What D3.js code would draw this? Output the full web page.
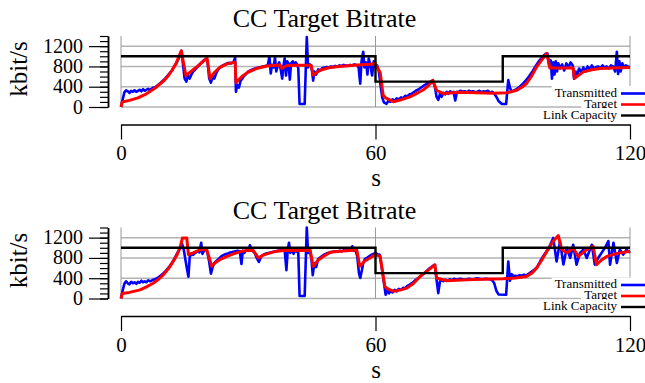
<!DOCTYPE html>
<html>
<head>
<meta charset="utf-8">
<script src="https://cdn.jsdelivr.net/npm/d3@7"></script>
<style>
  html, body { margin: 0; padding: 0; background: #fff; }
  svg { display: block; }
  text { font-family: "Liberation Serif", "Times New Roman", Times, serif; fill: #000; }
</style>
</head>
<body>
<svg id="chart" width="645" height="383"></svg>
<script>
// ---------------- DATA ----------------
const chartTitle = "CC Target Bitrate";
const xLabel = "s";
const yLabel = "kbit/s";
const xTicks = [0, 60, 120];
const yMajorTicks = [0, 400, 800, 1200];
const yMinorTicks = [0, 100, 200, 300, 400, 500, 600, 700, 800, 900, 1000, 1100, 1200, 1300, 1400];
const legendLabels = ["Transmitted", "Target", "Link Capacity"];
const seriesColors = ["#0000ff", "#ff0000", "#000000"];

// Link capacity (step function, value holds until next time)
const capacityTimes = [0, 60, 90, 120];
const capacityValues = [1000, 500, 1000, 1000];

// Top panel: target bitrate [s, kbit/s]
const targetTop = [[0,0],[0.3,100],[2,130],[4,180],[6,260],[8,370],[10,510],[11,600],[12,720],[13,860],[14.2,1110],
 [15.3,620],[16.5,700],[18,800],[19.5,910],[20.3,960],[21,560],[22,680],[23.3,780],[25,850],[26.9,885],[27.1,480],
 [28.5,600],[30,690],[32,760],[34.4,810],[37.5,830],[37.9,760],[39.1,820],[41,825],[44.8,825],[45.3,630],[46.9,725],
 [49,775],[50.8,795],[54.8,825],[58.7,845],[59.9,858],[61.1,680],[61.8,230],[62.4,180],[64.2,105],[66,140],[68.1,200],
 [70,280],[71.3,340],[72.5,420],[73.5,528],[74.4,330],[76,265],[79.9,290],[87.8,270],[91,280],[93.3,330],[94.5,390],
 [95.6,463],[96.8,610],[98,792],[99.2,930],[100.4,1056],[101.1,770],[106.6,770],[106.9,565],[109,693],[111,735],
 [112.9,760],[116,770],[120,780]];

// Top panel: transmitted bitrate [s, kbit/s]
const transmittedTop = [[0,0],[0.4,150],[0.8,290],[1.2,330],[1.6,310],[2,280],[2.4,320],[2.8,300],[3.2,330],[3.6,300],
 [4,320],[4.4,340],[4.8,310],[5.2,350],[5.6,320],[6,340],[6.4,360],[6.8,330],[7.2,360],[7.6,380],[8,390],[8.5,420],
 [9,450],[9.5,490],[10,530],[10.5,570],[11,620],[11.5,670],[12,720],[12.5,790],[13,860],[13.5,940],[14,1030],[14.3,1100],
 [14.6,850],[15,560],[15.4,500],[15.8,620],[16.2,560],[16.6,640],[17,700],[17.5,740],[18,790],[18.5,830],[19,880],
 [19.5,920],[20,950],[20.4,900],[20.8,560],[21.2,480],[21.6,600],[22,560],[22.5,680],[23,750],[23.5,790],[24,820],
 [24.5,840],[25,860],[25.5,870],[26,860],[26.5,880],[26.9,970],[27.1,300],[27.4,440],[27.8,380],[28.2,520],[28.6,560],
 [29,610],[29.5,650],[30,700],[31,740],[32,770],[33,790],[34,810],[34.6,820],[35,1000],[35.3,660],[35.6,830],[36,780],
 [36.3,980],[36.6,700],[37,830],[37.3,880],[37.7,720],[38,560],[38.3,820],[38.6,960],[38.9,620],[39.2,900],[39.5,860],
 [39.8,540],[40.1,860],[40.5,900],[40.9,820],[41.2,880],[41.5,840],[41.8,760],[42.1,60],[43.3,60],[43.8,1380],[44.1,780],
 [44.5,840],[44.9,800],[45.3,520],[45.6,700],[46,640],[46.5,740],[47,720],[47.5,770],[48,780],[48.5,790],[49,780],
 [49.5,800],[50,790],[50.5,810],[51,800],[51.5,820],[52,810],[52.5,830],[53,820],[53.5,810],[54,830],[54.5,820],
 [55,840],[55.5,830],[56,790],[56.4,460],[56.7,900],[57.1,1090],[57.4,780],[57.8,880],[58.1,640],[58.4,960],[58.8,820],
 [59.2,620],[59.6,900],[60,780],[60.4,820],[60.8,700],[61.2,420],[61.6,180],[62,90],[62.6,60],[63,120],[63.5,100],
 [64,150],[64.5,120],[65,170],[65.5,150],[66,190],[66.5,170],[67,220],[67.5,210],[68,250],[68.5,260],[69,290],
 [69.5,320],[70,340],[70.5,370],[71,400],[71.5,430],[72,450],[72.5,480],[73,500],[73.5,520],[74,400],[74.4,200],
 [74.8,140],[75.2,260],[75.6,200],[76,280],[76.4,250],[76.8,300],[77.2,260],[77.6,310],[78,280],[78.4,300],[78.8,130],
 [79.2,300],[79.6,290],[80,320],[80.5,300],[81,310],[81.5,290],[82,320],[82.5,300],[83,310],[83.5,290],[84,300],
 [84.5,320],[85,290],[85.5,310],[86,300],[86.5,320],[87,280],[87.5,300],[88,260],[88.5,200],[89,120],[89.8,60],
 [90.8,60],[91.3,530],[91.7,380],[92.1,300],[92.5,320],[93,340],[93.5,370],[94,400],[94.5,440],[95,480],[95.5,530],
 [96,580],[96.5,640],[97,700],[97.5,770],[98,840],[98.5,900],[99,950],[99.5,1000],[100,1040],[100.5,1060],[101,800],
 [101.3,920],[101.6,560],[101.9,880],[102.2,640],[102.5,900],[102.8,700],[103.1,860],[103.5,760],[104,840],[104.5,720],
 [105,860],[105.5,780],[106,880],[106.5,820],[106.8,560],[107.2,700],[107.6,640],[108,760],[108.5,680],[109,780],
 [109.5,700],[110,800],[110.5,740],[111,820],[111.5,760],[112,790],[112.5,800],[113,760],[113.5,820],[114,780],
 [114.5,800],[115,760],[115.5,820],[116,800],[116.5,700],[116.9,1090],[117.2,650],[117.5,900],[117.8,700],[118.2,860],
 [118.6,780],[119,820],[119.5,800],[120,790]];

// Bottom panel: target bitrate [s, kbit/s]
const targetBottom = [[0,0],[0.3,100],[2,120],[4.5,170],[6,230],[7.6,300],[9,390],[10,470],[11.2,590],[12.3,730],
 [13.2,860],[13.9,1000],[14.5,1195],[15.5,1195],[15.9,865],[17,900],[18.6,960],[20.2,965],[21.4,635],[22.3,710],
 [23.3,765],[25,830],[26.5,880],[28,920],[29.6,945],[31.2,945],[32.4,800],[33.4,850],[34.4,880],[36,920],[38.3,945],
 [44.6,950],[45.3,635],[46.5,760],[47.7,830],[49.3,910],[51.6,930],[54.8,950],[55.6,950],[56.3,635],[57.5,740],
 [58.7,800],[59.9,865],[61.1,830],[62.2,240],[62.6,205],[64.2,140],[66,170],[67.4,205],[69,300],[70.5,435],[72.3,550],
 [74,665],[74.4,405],[76.8,350],[83,375],[90.1,390],[93,405],[95.6,435],[97,510],[98,600],[99.2,760],[100.4,930],
 [101.9,1130],[103.1,1240],[103.9,965],[105.1,900],[106.6,1000],[107.8,830],[109.8,965],[111.3,1030],[112.1,665],
 [113.3,760],[114.5,830],[117,890],[120,930]];

// Bottom panel: transmitted bitrate [s, kbit/s]
const transmittedBottom = [[0,0],[0.4,160],[0.8,290],[1.2,340],[1.6,300],[2,280],[2.4,330],[2.8,300],[3.2,320],
 [3.6,290],[4,330],[4.4,310],[4.8,350],[5.2,320],[5.6,340],[6,320],[6.4,360],[6.8,340],[7.2,350],[7.6,370],[8,380],
 [8.5,400],[9,430],[9.5,460],[10,500],[10.5,540],[11,590],[11.5,640],[12,700],[12.5,770],[13,850],[13.5,930],[14,1000],
 [14.4,1080],[14.8,960],[15.2,760],[15.6,560],[15.9,430],[16.2,820],[16.6,880],[17,860],[17.5,900],[18,930],[18.5,910],
 [18.9,1100],[19.2,880],[19.6,950],[20,970],[20.4,900],[20.8,720],[21.2,490],[21.6,620],[22,700],[22.5,740],[23,780],
 [23.5,820],[24,850],[24.5,870],[25,880],[25.5,900],[26,910],[26.5,920],[27,930],[27.5,940],[28,930],[28.4,680],
 [28.7,940],[29.1,900],[29.5,950],[30,940],[30.4,1050],[30.8,950],[31.2,930],[31.6,880],[32,800],[32.5,720],[33,820],
 [33.5,860],[34,880],[35,900],[36,920],[37,940],[38,950],[38.6,940],[39,560],[39.3,950],[39.6,1100],[39.9,900],
 [40.3,960],[40.7,880],[41.1,960],[41.5,920],[41.8,900],[42.1,50],[43.3,50],[43.8,1400],[44.1,900],[44.5,960],
 [44.9,780],[45.2,460],[45.6,700],[46,620],[46.5,780],[47,810],[47.5,840],[48,870],[48.5,890],[49,900],[49.5,910],
 [50,920],[50.5,930],[51,920],[51.5,940],[52,930],[52.5,950],[53,940],[53.5,960],[54,950],[54.5,1030],[54.9,940],
 [55.3,960],[55.7,830],[56.1,500],[56.4,405],[56.8,560],[57.1,700],[57.5,780],[58,800],[58.5,830],[59,860],[59.5,880],
 [60,900],[60.5,870],[61,860],[61.5,600],[62,300],[62.4,73],[62.8,170],[63.2,100],[63.6,160],[64,120],[64.5,170],
 [65,140],[65.5,190],[66,170],[66.5,210],[67,200],[67.5,250],[68,270],[68.5,300],[69,330],[69.5,370],[70,400],
 [70.5,430],[71,470],[71.5,500],[72,540],[72.5,580],[73,610],[73.5,640],[74,660],[74.4,370],[74.8,106],[75.2,340],
 [75.6,360],[76,340],[76.5,370],[77,350],[77.5,380],[78,360],[78.5,390],[79,370],[79.5,380],[80,390],[81,370],
 [82,390],[83,380],[84,400],[85,380],[86,390],[87,380],[87.5,360],[88,300],[88.5,150],[89,80],[90.8,75],[91.3,730],
 [91.7,350],[92.1,480],[92.6,435],[93,450],[93.5,440],[94,460],[94.5,450],[95,470],[95.5,450],[96,480],[96.5,510],
 [97,540],[97.5,570],[98,610],[98.5,680],[99,760],[99.5,830],[100,890],[100.5,950],[101.1,1040],[101.9,1195],
 [102.7,730],[103.5,1130],[104.3,670],[105.1,1000],[105.9,800],[106.6,1060],[107.4,667],[108.2,900],[109,965],
 [109.8,800],[111,1060],[111.7,667],[112.5,800],[113.3,900],[114.1,1000],[114.9,1130],[115.3,667],[116.1,1100],
 [116.9,700],[117.6,965],[118.4,865],[119.2,965],[120,900]];

const panels = [
  { offset: 0, transmitted: transmittedTop, target: targetTop },
  { offset: 191.5, transmitted: transmittedBottom, target: targetBottom }
];

// ---------------- DRAW ----------------
const svg = d3.select("#chart");
const W = 645;
const plotLeft = 121, plotRight = 630, plotTop = 36, plotBottom = 107;
const yAxisX = 108, xAxisY = 124.5;
const serif = "'Liberation Serif', 'Times New Roman', serif";

const x = d3.scaleLinear().domain([0, 120]).range([plotLeft, plotRight]);
const capacityData = capacityTimes.map((t, i) => [t, capacityValues[i]]);

panels.forEach(p => {
  const g = svg.append("g").attr("transform", `translate(0,${p.offset})`);
  const y = d3.scaleLinear().domain([0, 1400]).range([plotBottom, plotTop]);

  // title
  g.append("text").attr("x", W / 2 + 2).attr("y", 27).attr("text-anchor", "middle")
    .style("font-size", "26px").text(chartTitle);

  // grid
  g.append("g").selectAll("line").data(yMajorTicks).join("line")
    .attr("x1", plotLeft).attr("x2", plotRight)
    .attr("y1", d => y(d)).attr("y2", d => y(d))
    .attr("stroke", "#b3b3b3").attr("stroke-width", 1.5);
  g.append("g").selectAll("line").data(xTicks).join("line")
    .attr("x1", d => x(d)).attr("x2", d => x(d))
    .attr("y1", plotTop).attr("y2", plotBottom)
    .attr("stroke", "#999").attr("stroke-width", 1);

  // y axis
  const yMinor = g.append("g").attr("transform", `translate(${yAxisX},0)`)
    .call(d3.axisLeft(y).tickValues(yMinorTicks).tickSize(8).tickSizeOuter(0).tickFormat(""));
  const yMajor = g.append("g").attr("transform", `translate(${yAxisX},0)`)
    .call(d3.axisLeft(y).tickValues(yMajorTicks).tickSize(19).tickSizeOuter(0).tickPadding(6)
      .tickFormat(d3.format("d")));
  [yMinor, yMajor].forEach(a => {
    a.select(".domain").attr("stroke", "#000").attr("stroke-width", 1.5);
    a.selectAll(".tick line").attr("stroke", "#000").attr("stroke-width", 1.2);
  });
  yMajor.selectAll(".tick text").style("font-size", "20px")
    .style("font-family", serif).attr("dy", "0.3em");

  // x axis
  const xAx = g.append("g").attr("transform", `translate(0,${xAxisY})`)
    .call(d3.axisBottom(x).tickValues(xTicks).tickSize(15).tickSizeOuter(0).tickPadding(6)
      .tickFormat(d3.format("d")));
  xAx.select(".domain").attr("stroke", "#000").attr("stroke-width", 1.5);
  xAx.selectAll(".tick line").attr("stroke", "#000").attr("stroke-width", 1.2);
  xAx.selectAll(".tick text").style("font-size", "21px").style("font-family", serif);

  // axis labels
  g.append("text").attr("x", 376).attr("y", 186).attr("text-anchor", "middle")
    .style("font-size", "25px").text(xLabel);
  g.append("text").attr("transform", "translate(27,69) rotate(-90)").attr("text-anchor", "middle")
    .style("font-size", "25px").text(yLabel);

  // lines
  const line = d3.line().x(d => x(d[0])).y(d => y(d[1]));
  g.append("path").datum(p.transmitted).attr("d", line)
    .attr("fill", "none").attr("stroke", seriesColors[0]).attr("stroke-width", 2.6).attr("stroke-linejoin", "round");
  g.append("path").datum(p.target).attr("d", line)
    .attr("fill", "none").attr("stroke", seriesColors[1]).attr("stroke-width", 3).attr("stroke-linejoin", "round");
  g.append("path").datum(capacityData).attr("d", line.curve(d3.curveStepAfter))
    .attr("fill", "none").attr("stroke", seriesColors[2]).attr("stroke-width", 2.4);

  // legend
  const baselines = [96.5, 107.5, 118.5];
  legendLabels.forEach((lab, i) => {
    const lg = g.append("g");
    const bg = lg.append("rect").attr("fill", "#fff");
    const t = lg.append("text").attr("x", 617).attr("y", baselines[i]).attr("text-anchor", "end")
      .style("font-size", "13px").text(lab);
    const w = t.node().getComputedTextLength();
    bg.attr("x", 617 - w - 3).attr("y", baselines[i] - 10.5).attr("width", W - (617 - w - 3)).attr("height", 11.5);
    lg.append("line").attr("x1", 621).attr("x2", 650)
      .attr("y1", baselines[i] - 3).attr("y2", baselines[i] - 3)
      .attr("stroke", seriesColors[i]).attr("stroke-width", i === 2 ? 2.4 : 2.6);
  });
});
</script>
</body>
</html>
